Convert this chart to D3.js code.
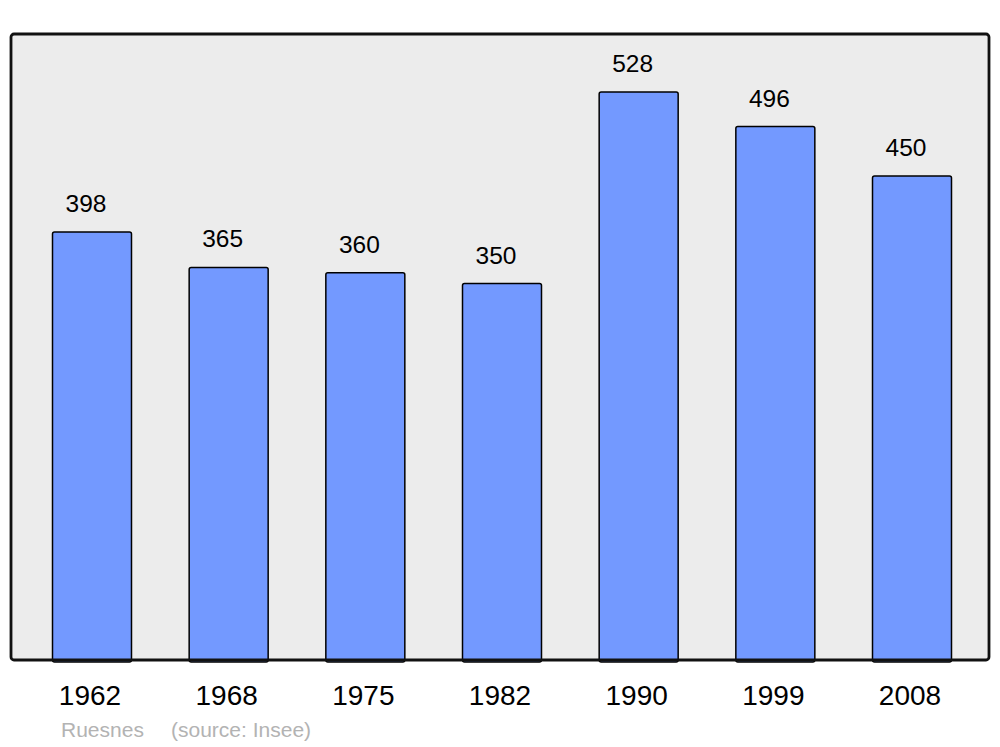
<!DOCTYPE html>
<html>
<head>
<meta charset="utf-8">
<script src="https://cdn.jsdelivr.net/npm/d3@7"></script>
<style>
  html, body { margin: 0; padding: 0; background: #ffffff; }
  svg { display: block; }
</style>
</head>
<body>
<svg id="chart" width="1000" height="747"></svg>
<script>
const years = ["1962", "1968", "1975", "1982", "1990", "1999", "2008"];
const population = [398, 365, 360, 350, 528, 496, 450];
const commune = "Ruesnes";
const source = "(source: Insee)";

const svg = d3.select("#chart");
const font = "'Liberation Sans', Arial, sans-serif";

const frame = { left: 11, right: 989, top: 34, bottom: 660 };

const x = d3.scaleBand()
  .domain(years)
  .range([11.5, 992.5])
  .paddingInner(0.422)
  .paddingOuter(0.3);

const y = d3.scaleLinear()
  .domain([0, 582])
  .range([frame.bottom, frame.top]);

// background frame fill
svg.append("rect")
  .attr("x", frame.left).attr("y", frame.top)
  .attr("width", frame.right - frame.left)
  .attr("height", frame.bottom - frame.top)
  .attr("rx", 3).attr("ry", 3)
  .attr("fill", "#ececec");

// bars
svg.selectAll("rect.bar")
  .data(years.map((yr, i) => ({ yr, v: population[i] })))
  .join("rect")
  .attr("class", "bar")
  .attr("x", d => x(d.yr))
  .attr("y", d => y(d.v))
  .attr("width", x.bandwidth())
  .attr("height", d => y(0) - y(d.v) + 2)
  .attr("rx", 2).attr("ry", 2)
  .attr("fill", "#7399ff")
  .attr("stroke", "#000")
  .attr("stroke-width", 1.5);

// frame stroke on top
svg.append("rect")
  .attr("x", frame.left).attr("y", frame.top)
  .attr("width", frame.right - frame.left)
  .attr("height", frame.bottom - frame.top)
  .attr("rx", 3).attr("ry", 3)
  .attr("fill", "none")
  .attr("stroke", "#111")
  .attr("stroke-width", 2.8);

// value labels
svg.selectAll("text.val")
  .data(years.map((yr, i) => ({ yr, v: population[i] })))
  .join("text")
  .attr("class", "val")
  .attr("x", d => x(d.yr) + x.bandwidth() / 2 - 6)
  .attr("y", d => y(d.v) - 20)
  .attr("text-anchor", "middle")
  .attr("font-family", font)
  .attr("font-size", 24.5)
  .attr("fill", "#000")
  .text(d => d.v);

// x axis labels
const xAxis = d3.axisBottom(x).tickSize(0).tickPadding(0);
const gx = svg.append("g")
  .attr("transform", `translate(-2, 705)`)
  .call(xAxis);
gx.select(".domain").remove();
gx.selectAll("text")
  .attr("dy", 0)
  .attr("font-family", font)
  .attr("font-size", 28)
  .attr("fill", "#000");

// source caption
svg.append("text")
  .attr("x", 61).attr("y", 737)
  .attr("font-family", font)
  .attr("font-size", 21)
  .attr("fill", "#b3b3b3")
  .text(commune);
svg.append("text")
  .attr("x", 171).attr("y", 737)
  .attr("font-family", font)
  .attr("font-size", 21)
  .attr("fill", "#b3b3b3")
  .text(source);
</script>
</body>
</html>
